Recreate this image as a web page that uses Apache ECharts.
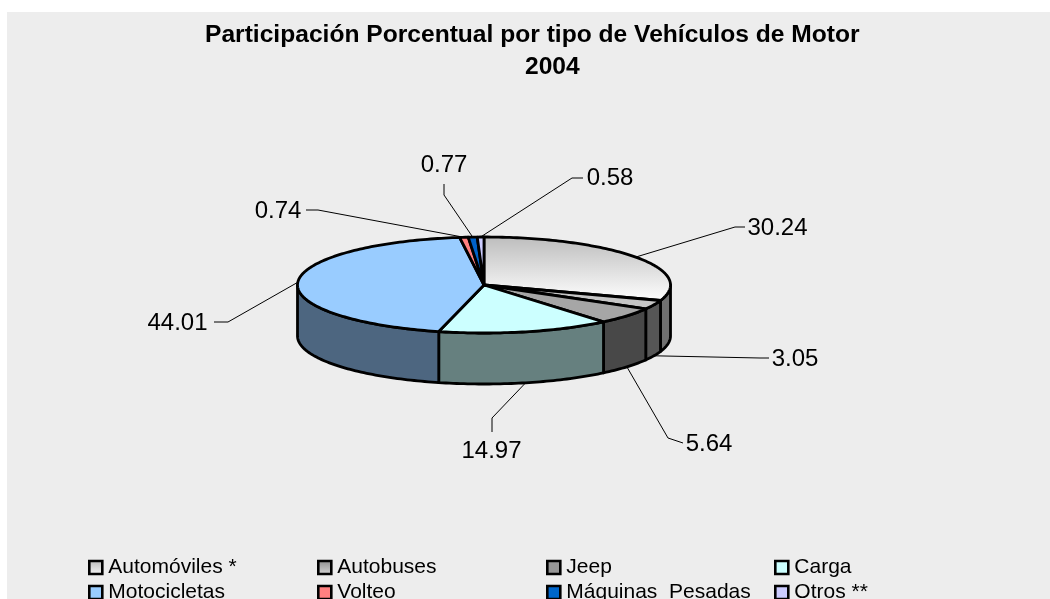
<!DOCTYPE html>
<html><head><meta charset="utf-8">
<style>html,body{margin:0;padding:0;background:#fff;overflow:hidden}#c{width:1050px;height:599px}</style>
<script src="https://cdn.jsdelivr.net/npm/echarts@6/dist/echarts.min.js"></script>
</head><body><div id="c"></div>
<script>
const titleLine = 'Participación Porcentual por tipo de Vehículos de Motor';
const yearLine = '2004';
const categories = ['Automóviles *','Autobuses','Jeep','Carga','Motocicletas','Volteo','Máquinas  Pesadas','Otros **'];
const shares = [30.24,3.05,5.64,14.97,44.01,0.74,0.77,0.58];
const shareLabels = ['30.24','3.05','5.64','14.97','44.01','0.74','0.77','0.58'];

// styling and layout, kept apart from the data
const G = echarts.graphic.LinearGradient;
const topColors = [
  new G(0,0,0,1,[{offset:0,color:'#bcbcbc'},{offset:1,color:'#ffffff'}]),
  '#c6c6c6','#a6a6a6','#ccffff','#99ccff','#ff8080','#0062c8','#ccccff'];
const legendColors = [
  new G(0,0,0,1,[{offset:0,color:'#b8b8b8'},{offset:1,color:'#f8f8f8'}]),
  new G(0,0,0,1,[{offset:0,color:'#8a8a8a'},{offset:1,color:'#d8d8d8'}]),
  '#969696','#ccffff','#99ccff','#ff8080','#0066cc','#ccccff'];
const wallColors = ['#707070','#565656','#484848','#66807f','#4d6680','#804040','#002c5c','#666680'];
const CX=484, CY=285, RX=186.5, RY=48, DEPTH=51;
// per slice: leader anchored on side wall?, elbow, elbow end, label centre
const leaders = [
  {wall:false,a:[735,227],b:[745,227],t:[777.5,228]},
  {wall:true, a:[760,358],b:[769,358],t:[795,359]},
  {wall:true, a:[668,438],b:[683,443],t:[709,444]},
  {wall:true, a:[492,418],b:[492,432],t:[491.5,451]},
  {wall:false,a:[228,322],b:[214,322],t:[177.5,323]},
  {wall:false,a:[318,210],b:[306,210],t:[278,211]},
  {wall:false,a:[444,195],b:[444,184],t:[444,165]},
  {wall:false,a:[572,178],b:[583,178],t:[610,178]}
];
const total = shares.reduce((a,b)=>a+b,0);
const pt = (t,dy=0)=>[CX+RX*Math.sin(t), CY-RY*Math.cos(t)+dy];
function arc(t0,t1,dy){const n=Math.max(2,Math.ceil(Math.abs(t1-t0)/0.02));const r=[];
  for(let i=0;i<=n;i++)r.push(pt(t0+(t1-t0)*i/n,dy));return r;}

function sliceRenderer(idx){
  return function(params,api){
    const before = shares.slice(0,idx).reduce((a,b)=>a+b,0);
    const t0 = before/total*2*Math.PI, t1 = t0+api.value(0)/total*2*Math.PI;
    const mid=(t0+t1)/2, L=leaders[idx];
    const kids=[];
    const start=pt(mid,L.wall?DEPTH:0);
    kids.push({type:'polyline',z2:1,shape:{points:[start,L.a,L.b]},style:{stroke:'#000',lineWidth:1,fill:null}});
    kids.push({type:'text',z2:30,style:{text:shareLabels[idx],x:L.t[0],y:L.t[1],align:'center',verticalAlign:'middle',
      font:'24px "Liberation Sans"',fill:'#000'}});
    const w0=Math.max(t0,Math.PI/2), w1=Math.min(t1,Math.PI*1.5);
    if(w1>w0){
      const pts=arc(w0,w1,0).concat(arc(w1,w0,DEPTH));
      kids.push({type:'polygon',z2:5,shape:{points:pts},style:{fill:wallColors[idx],stroke:'#000',lineWidth:2.8,lineJoin:'round'}});
    }
    kids.push({type:'polygon',z2:10,shape:{points:[[CX,CY]].concat(arc(t0,t1,0))},
      style:{fill:topColors[idx],stroke:'#000',lineWidth:2.8,lineJoin:'round'}});
    return {type:'group',children:kids};
  };
}

const series = categories.map((name,i)=>({
  type:'custom',name,coordinateSystem:'none',silent:true,animation:false,
  data:[[shares[i]]],renderItem:sliceRenderer(i),
  itemStyle:{color:legendColors[i]}
}));
const columnLefts=[88,317,546,774];
const legends=columnLefts.map((left,c)=>({
  type:'plain',orient:'vertical',left,top:555,height:80,width:220,padding:0,itemWidth:13,itemHeight:13,itemGap:0,selectedMode:false,icon:'rect',
  textStyle:{fontFamily:'Liberation Sans',fontSize:21,color:'#000',padding:[0,0,0,1],lineHeight:25},
  data:[c,c+4].map(i=>({name:categories[i],icon:'rect',itemStyle:{color:legendColors[i],borderColor:'#000',borderWidth:2.6}}))
}));
const titleStyle={fontFamily:'Liberation Sans',fontWeight:'bold',fontSize:24.6,color:'#000',lineHeight:31};
const chart=echarts.init(document.getElementById('c'),null,{renderer:'canvas'});
chart.setOption({
  backgroundColor:'#ffffff',animation:false,
  graphic:[{type:'rect',z:-10,silent:true,shape:{x:7,y:12,width:1043,height:587},style:{fill:'#ededed'}}],
  title:[
    {text:titleLine,left:205,top:20,padding:0,textStyle:titleStyle},
    {text:yearLine,left:525,top:52,padding:0,textStyle:titleStyle}
  ],
  legend:legends,
  series
});
</script></body></html>
